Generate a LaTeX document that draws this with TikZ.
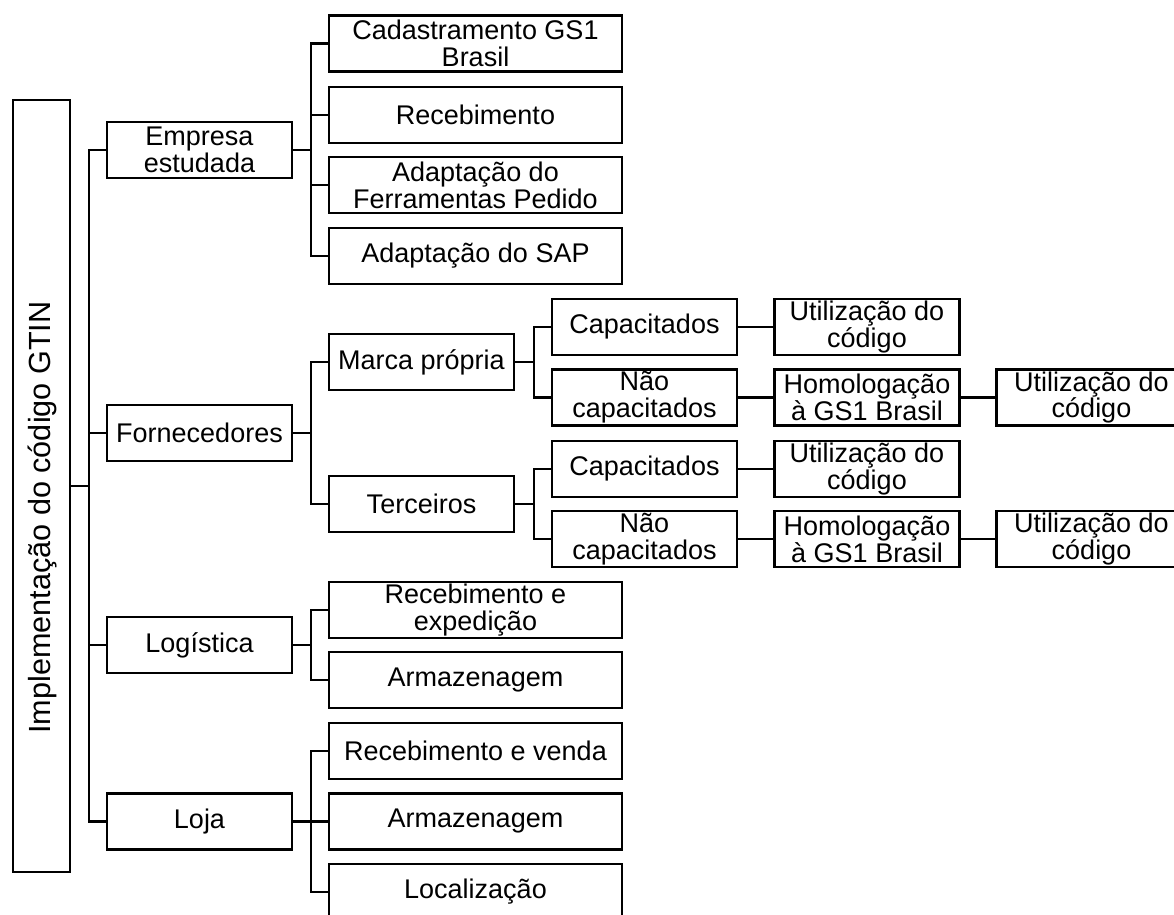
\documentclass[tikz,border=0pt]{standalone}
\usepackage{fontspec}
\setmainfont{Liberation Sans}
\tikzset{
  box/.style={draw,line width=1.1pt,inner sep=0pt,align=center,minimum height=28pt,
    font=\fontsize{13.5}{13.4}\selectfont},
  narrow/.style={box,minimum width=92.5pt},
  wide/.style={box,minimum width=146.5pt},
  link/.style={line width=1.1pt},
}
\begin{document}
\begin{tikzpicture}[x=0.5pt,y=-0.5pt]
                \useasboundingbox (0,0) rectangle (1174,915);
                %% root
                \node[draw,line width=1.1pt,minimum width=28.5pt,minimum height=386pt] (root) at (41.5,486) {};
                \node[rotate=90,font=\fontsize{15.3}{16}\selectfont] (roottxt) at (42,517.5) {Implementação do código GTIN};
                %% first level
                \node[narrow] (empresa) at (199.5,150) {Empresa\\estudada};
                \node[narrow] (fornec) at (199.5,433) {Fornecedores};
                \node[narrow] (logist) at (199.5,645) {Logística};
                \node[narrow] (loja) at (199.5,821.5) {Loja};
                %% empresa estudada
                \node[wide] (cadastro) at (475.5,43.5) {Cadastramento GS1\\Brasil};
                \node[wide] (receb) at (475.5,115) {Recebimento};
                \node[wide] (ferram) at (475.5,185) {Adaptação do\\Ferramentas Pedido};
                \node[wide] (sap) at (475.5,256) {Adaptação do SAP};
                %% fornecedores
                \node[narrow] (marca) at (421.5,362) {Marca própria};
                \node[narrow] (terc) at (421.5,504) {Terceiros};
                \node[narrow] (cap1) at (644.5,327) {Capacitados};
                \node[narrow] (ncap1) at (644.5,397.5) {Não\\capacitados};
                \node[narrow] (cap2) at (644.5,469) {Capacitados};
                \node[narrow] (ncap2) at (644.5,539) {Não\\capacitados};
                \node[narrow] (util1) at (867,327) {Utilização do\\código};
                \node[narrow] (homol1) at (867,397.5) {Homologação\\à GS1 Brasil};
                \node[narrow] (util3) at (867,469) {Utilização do\\código};
                \node[narrow] (homol2) at (867,539) {Homologação\\à GS1 Brasil};
                \node[narrow,minimum width=95pt] (util2) at (1091.5,397.5) {Utilização do\\código};
                \node[narrow,minimum width=95pt] (util4) at (1091.5,539) {Utilização do\\código};
                %% logistica
                \node[wide] (recexp) at (475.5,610) {Recebimento e\\expedição};
                \node[wide] (armaz1) at (475.5,680) {Armazenagem};
                %% loja
                \node[wide] (recvenda) at (475.5,751) {Recebimento e venda};
                \node[wide] (armaz2) at (475.5,821.5) {Armazenagem};
                \node[wide] (local) at (475.5,892) {Localização};
                %% connectors
                \foreach \c in {empresa,fornec,logist,loja}
                  \draw[link] (root.east) -- ++(18,0) |- (\c.west);
                \foreach \c in {cadastro,receb,ferram,sap}
                  \draw[link] (empresa.east) -- ++(18,0) |- (\c.west);
                \foreach \c in {marca,terc}
                  \draw[link] (fornec.east) -- ++(18,0) |- (\c.west);
                \foreach \c in {cap1,ncap1}
                  \draw[link] (marca.east) -- ++(19,0) |- (\c.west);
                \foreach \c in {cap2,ncap2}
                  \draw[link] (terc.east) -- ++(19,0) |- (\c.west);
                \foreach \c in {recexp,armaz1}
                  \draw[link] (logist.east) -- ++(18,0) |- (\c.west);
                \foreach \c in {recvenda,armaz2,local}
                  \draw[link] (loja.east) -- ++(18,0) |- (\c.west);
                \draw[link] (cap1) -- (util1);
                \draw[link] (ncap1) -- (homol1);
                \draw[link] (homol1) -- (util2);
                \draw[link] (cap2) -- (util3);
                \draw[link] (ncap2) -- (homol2);
                \draw[link] (homol2) -- (util4);
\end{tikzpicture}
\end{document}
